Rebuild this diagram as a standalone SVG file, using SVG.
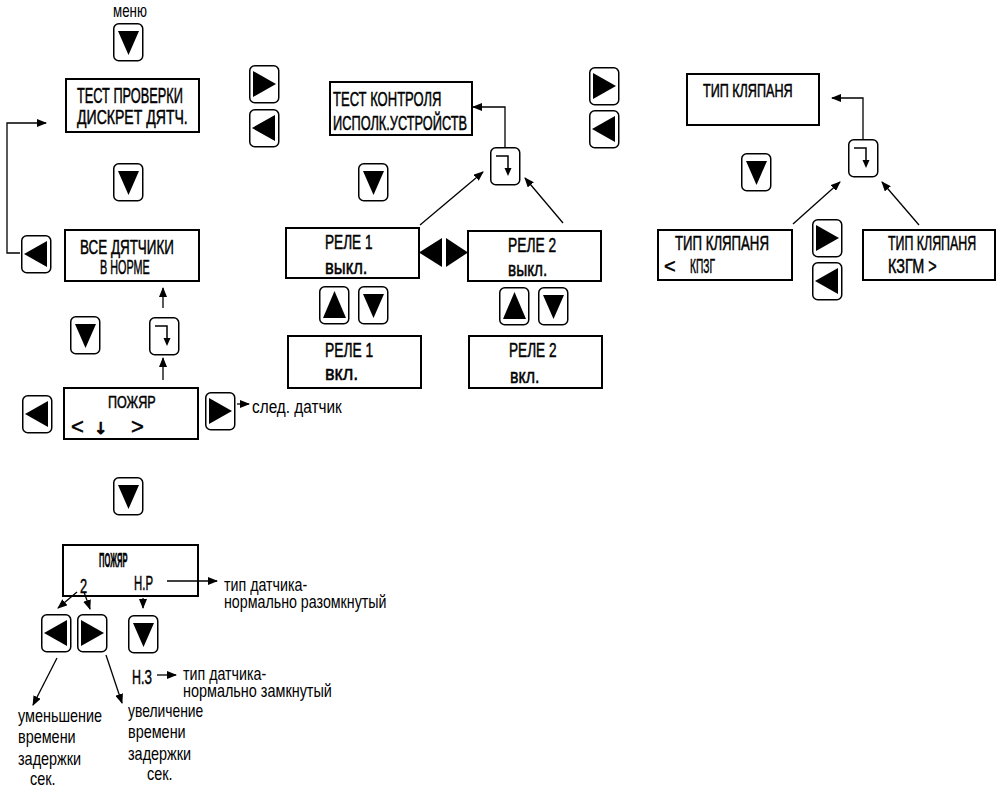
<svg xmlns="http://www.w3.org/2000/svg" xmlns:xlink="http://www.w3.org/1999/xlink" width="1003" height="791" viewBox="0 0 1003 791">
<style>
.bx{fill:#fff;stroke:#000;stroke-width:2}
.bt{fill:#fff;stroke:#000;stroke-width:1.5}
.tri{fill:#000}
.lcd{font-family:"Liberation Sans",Arial,sans-serif;fill:#000;stroke:#000;stroke-width:.5}
.arr{font-family:"DejaVu Sans","DejaVu Sans Mono",sans-serif;fill:#000;stroke:#000;stroke-width:.9;font-variant-emoji:text}
.lbl{font-family:"Liberation Sans",Arial,sans-serif;font-size:18.5px;fill:#000}
.ln{fill:none;stroke:#000;stroke-width:1.3}
</style>
<defs>
<marker id="ah" markerUnits="userSpaceOnUse" markerWidth="10" markerHeight="8" refX="9" refY="4" orient="auto">
<path d="M0,0 L10,4 L0,8 Z" fill="#000"/>
</marker>
<g id="bDown"><rect class="bt" x="0.75" y="0.75" width="29" height="37" rx="5"/><polygon class="tri" points="5,8 26,8 15.5,32"/></g>
<g id="bUp"><rect class="bt" x="0.75" y="0.75" width="29" height="37" rx="5"/><polygon class="tri" points="4,32 27,32 15.5,5"/></g>
<g id="bRight"><rect class="bt" x="0.75" y="0.75" width="29" height="37" rx="5"/><polygon class="tri" points="4,6 4,32 27,19"/></g>
<g id="bLeft"><rect class="bt" x="0.75" y="0.75" width="29" height="37" rx="5"/><polygon class="tri" points="26,6 26,32 3,19"/></g>
<g id="bEnter"><rect class="bt" x="0.75" y="0.75" width="29" height="37" rx="5"/><path d="M6,9 H18 V23" fill="none" stroke="#000" stroke-width="1.5"/><polygon class="tri" points="14.5,21 21.5,21 18,29"/></g>
</defs>
<rect width="1003" height="791" fill="#fff"/>

<g id="label-menu"><text class="lbl" transform="translate(113 17) scale(.72 1)">меню</text></g>

<g id="btn-menu"><use xlink:href="#bDown" x="113" y="23"/></g>
<g id="btn-down1"><use xlink:href="#bDown" x="113" y="163"/></g>
<g id="btn-left1"><use xlink:href="#bLeft" x="21" y="235"/></g>
<g id="btn-down2"><use xlink:href="#bDown" x="70" y="316"/></g>
<g id="btn-enter1"><use xlink:href="#bEnter" x="149" y="317"/></g>
<g id="btn-left2"><use xlink:href="#bLeft" x="22" y="395"/></g>
<g id="btn-right2"><use xlink:href="#bRight" x="205" y="392"/></g>
<g id="btn-right3"><use xlink:href="#bRight" x="249" y="65"/></g>
<g id="btn-left3"><use xlink:href="#bLeft" x="249" y="109"/></g>
<g id="btn-down3"><use xlink:href="#bDown" x="358" y="163"/></g>
<g id="btn-enter2"><use xlink:href="#bEnter" x="490" y="147"/></g>
<g id="btn-up-r1"><use xlink:href="#bUp" x="319" y="286"/></g>
<g id="btn-down-r1"><use xlink:href="#bDown" x="358" y="286"/></g>
<g id="btn-up-r2"><use xlink:href="#bUp" x="499" y="287"/></g>
<g id="btn-down-r2"><use xlink:href="#bDown" x="538" y="287"/></g>
<g id="btn-right4"><use xlink:href="#bRight" x="589" y="67"/></g>
<g id="btn-left4"><use xlink:href="#bLeft" x="589" y="110"/></g>
<g id="btn-down4"><use xlink:href="#bDown" x="741" y="153"/></g>
<g id="btn-enter3"><use xlink:href="#bEnter" x="848" y="139"/></g>
<g id="btn-right5"><use xlink:href="#bRight" x="812" y="219"/></g>
<g id="btn-left5"><use xlink:href="#bLeft" x="812" y="262"/></g>
<g id="btn-down5"><use xlink:href="#bDown" x="113" y="477"/></g>
<g id="btn-left6"><use xlink:href="#bLeft" x="41" y="614"/></g>
<g id="btn-right6"><use xlink:href="#bRight" x="77" y="614"/></g>
<g id="btn-down6"><use xlink:href="#bDown" x="128" y="615"/></g>

<g id="relay-switch">
<polygon class="tri" points="442,238 442,267 419,252.5"/>
<polygon class="tri" points="446,238 446,267 468,252.5"/>
</g>

<g id="box-test-sensors">
<rect class="bx" x="66" y="79" width="133" height="53"/>
<text class="lcd" font-size="22" transform="translate(77 103) scale(.58 1)">ТЕСТ ПРОВЕРКИ</text>
<text class="lcd" font-size="21" transform="translate(77 124) scale(.67 1)">ДИСКРЕТ ДЯТЧ.</text>
</g>
<g id="box-all-ok">
<rect class="bx" x="65" y="230" width="134" height="51"/>
<text class="lcd" font-size="21" transform="translate(80 254) scale(.64 1)">ВСЕ ДЯТЧИКИ</text>
<text class="lcd" font-size="20" transform="translate(100 274) scale(.54 1)">В НОРМЕ</text>
</g>
<g id="box-fire1">
<rect class="bx" x="64" y="388" width="134" height="51"/>
<text class="lcd" font-size="17" transform="translate(108 408) scale(.74 1)">ПОЖЯР</text>
<text class="lcd" x="71" y="434" font-size="22">&lt;</text>
<text class="arr" x="94" y="434" font-size="16">↓&#xFE0E;</text>
<text class="lcd" x="131" y="434" font-size="22">&gt;</text>
</g>
<g id="box-test-actuators">
<rect class="bx" x="330" y="82" width="142" height="53"/>
<text class="lcd" font-size="21" transform="translate(333 106) scale(.62 1)">ТЕСТ КОНТРОЛЯ</text>
<text class="lcd" font-size="20" transform="translate(333 130) scale(.64 1)">ИСПОЛК.УСТРОЙСТВ</text>
</g>
<g id="box-relay1-off">
<rect class="bx" x="286" y="228" width="133" height="50"/>
<text class="lcd" font-size="20" transform="translate(325 249) scale(.68 1)">РЕЛЕ 1</text>
<text class="lcd" font-size="21" transform="translate(325 274) scale(.79 1)">выкл.</text>
</g>
<g id="box-relay2-off">
<rect class="bx" x="468" y="231" width="133" height="50"/>
<text class="lcd" font-size="20" transform="translate(508 252) scale(.69 1)">РЕЛЕ 2</text>
<text class="lcd" font-size="21" transform="translate(508 276) scale(.73 1)">выкл.</text>
</g>
<g id="box-relay1-on">
<rect class="bx" x="288" y="336" width="133" height="52"/>
<text class="lcd" font-size="20" transform="translate(325 357) scale(.69 1)">РЕЛЕ 1</text>
<text class="lcd" font-size="21" transform="translate(325 380) scale(.86 1)">вкл.</text>
</g>
<g id="box-relay2-on">
<rect class="bx" x="469" y="336" width="133" height="52"/>
<text class="lcd" font-size="20" transform="translate(509 357) scale(.68 1)">РЕЛЕ 2</text>
<text class="lcd" font-size="21" transform="translate(510 383) scale(.76 1)">вкл.</text>
</g>
<g id="box-valve-type">
<rect class="bx" x="687" y="74" width="132" height="51"/>
<text class="lcd" font-size="18" transform="translate(703 97) scale(.70 1)">ТИП КЛЯПАНЯ</text>
</g>
<g id="box-valve-kpzg">
<rect class="bx" x="658" y="230" width="134" height="50"/>
<text class="lcd" font-size="20" transform="translate(675 250) scale(.66 1)">ТИП КЛЯПАНЯ</text>
<text class="lcd" x="664" y="273" font-size="20">&lt;</text>
<text class="lcd" font-size="20" transform="translate(690 273) scale(.51 1)">КПЗГ</text>
</g>
<g id="box-valve-kzgm">
<rect class="bx" x="863" y="230" width="132" height="50"/>
<text class="lcd" font-size="20" transform="translate(888 250) scale(.62 1)">ТИП КЛЯПАНЯ</text>
<text class="lcd" font-size="20" transform="translate(888 273) scale(.72 1)">КЗГМ &gt;</text>
</g>
<g id="box-fire2">
<rect class="bx" x="63" y="545" width="135" height="51"/>
<text class="lcd" font-size="20" font-weight="bold" transform="translate(99 567) scale(.38 1)">ПОЖЯР</text>
<text class="lcd" font-size="20" transform="translate(80 593) scale(.64 1)">2</text>
<text class="lcd" font-size="20" transform="translate(134 590) scale(.57 1)">Н.Р</text>
</g>
<g id="label-nz">
<text class="lcd" font-size="20" transform="translate(132 684) scale(.62 1)">Н.З</text>
</g>

<g id="labels">
<text class="lbl" transform="translate(252 413) scale(.83 1)">след. датчик</text>
<text class="lbl" transform="translate(224 591) scale(.77 1)">тип датчика-</text>
<text class="lbl" transform="translate(224 608) scale(.77 1)">нормально разомкнутый</text>
<text class="lbl" transform="translate(183 680) scale(.77 1)">тип датчика-</text>
<text class="lbl" transform="translate(183 697) scale(.78 1)">нормально замкнутый</text>
<text class="lbl" transform="translate(18 722) scale(.78 1)">уменьшение</text>
<text class="lbl" transform="translate(18 743) scale(.78 1)">времени</text>
<text class="lbl" transform="translate(18 765) scale(.78 1)">задержки</text>
<text class="lbl" transform="translate(30 785) scale(.78 1)">сек.</text>
<text class="lbl" transform="translate(128 717) scale(.75 1)">увеличение</text>
<text class="lbl" transform="translate(128 738) scale(.78 1)">времени</text>
<text class="lbl" transform="translate(128 760) scale(.78 1)">задержки</text>
<text class="lbl" transform="translate(147 780) scale(.78 1)">сек.</text>
</g>

<g id="connectors">
<path class="ln" d="M20,253 H7 V123 H46" marker-end="url(#ah)"/>
<path class="ln" d="M163,308 V288" marker-end="url(#ah)"/>
<path class="ln" d="M163,380 V358" marker-end="url(#ah)"/>
<path class="ln" d="M237,404 H249" marker-end="url(#ah)"/>
<path class="ln" d="M505,147 V107 H473" marker-end="url(#ah)"/>
<path class="ln" d="M420,225 L483,172" marker-end="url(#ah)"/>
<path class="ln" d="M563,223 L525,178" marker-end="url(#ah)"/>
<path class="ln" d="M863,139 V98 H832" marker-end="url(#ah)"/>
<path class="ln" d="M793,224 L840,182" marker-end="url(#ah)"/>
<path class="ln" d="M919,225 L882,182" marker-end="url(#ah)"/>
<path class="ln" d="M167,581 H217" marker-end="url(#ah)"/>
<path class="ln" d="M77,592 L58,608" marker-end="url(#ah)"/>
<path class="ln" d="M84,592 L90,609" marker-end="url(#ah)"/>
<path class="ln" d="M143,598 V608" marker-end="url(#ah)"/>
<path class="ln" d="M57,658 L33,705" marker-end="url(#ah)"/>
<path class="ln" d="M106,655 L122,703" marker-end="url(#ah)"/>
<path class="ln" d="M157,675 H176" marker-end="url(#ah)"/>
</g>
</svg>
